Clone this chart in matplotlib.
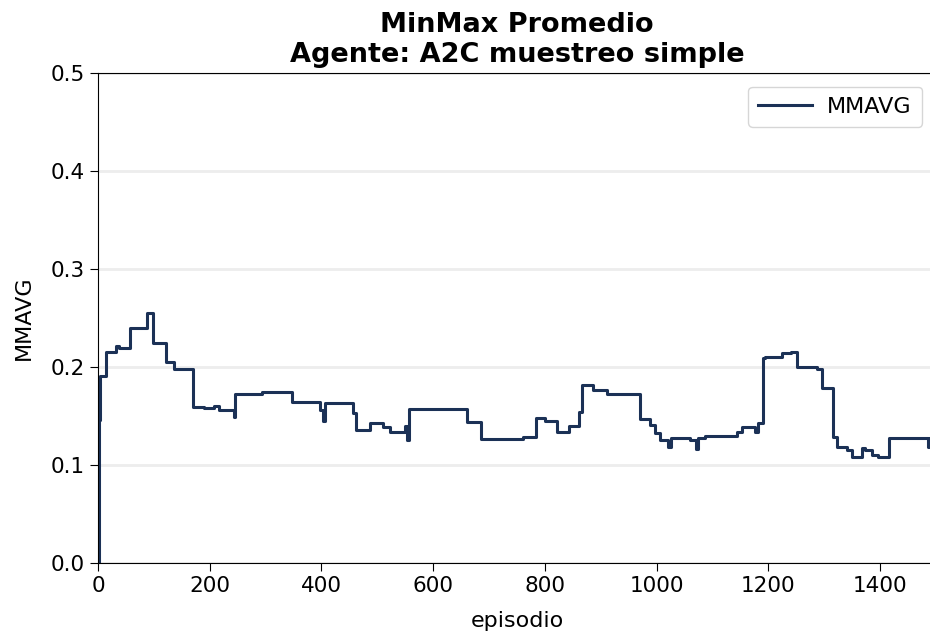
import matplotlib
matplotlib.use("Agg")
import matplotlib.pyplot as plt
import numpy as np

# MinMax average per episode, stored as step breakpoints (episode where value changes)
episodio_ini = [0, 2, 4, 14, 32, 38, 57, 88, 98, 122, 136, 170, 190, 208, 217, 243,
                246, 294, 347, 397, 402, 406, 457, 461, 487, 510, 523, 549, 553, 557,
                661, 686, 761, 784, 800, 822, 843, 861, 866, 886, 911, 970, 988, 997,
                1006, 1021, 1026, 1060, 1070, 1074, 1087, 1144, 1153, 1176, 1182, 1190,
                1194, 1225, 1240, 1252, 1287, 1296, 1316, 1323, 1341, 1350, 1368, 1373,
                1386, 1397, 1415, 1485, 1488, 1499]
mmavg = [0.0, 0.146, 0.191, 0.215, 0.221, 0.219, 0.240, 0.255, 0.224, 0.205, 0.198,
         0.159, 0.158, 0.160, 0.156, 0.149, 0.172, 0.174, 0.164, 0.156, 0.145, 0.163,
         0.153, 0.136, 0.143, 0.139, 0.134, 0.140, 0.126, 0.157, 0.144, 0.127, 0.129,
         0.148, 0.145, 0.134, 0.140, 0.154, 0.182, 0.177, 0.172, 0.147, 0.141, 0.133,
         0.126, 0.118, 0.128, 0.126, 0.116, 0.128, 0.130, 0.134, 0.139, 0.134, 0.143,
         0.209, 0.210, 0.214, 0.215, 0.200, 0.198, 0.179, 0.129, 0.118, 0.115, 0.108,
         0.117, 0.115, 0.110, 0.108, 0.128, 0.118, 0.128, 0.128]

fig = plt.figure(figsize=(9.3, 6.38), dpi=100)
ax = fig.add_axes([98 / 930, 75 / 638, 838 / 930, 490 / 638])

ax.plot(episodio_ini, mmavg, drawstyle="steps-post", color="#1b3156",
        linewidth=2.2, label="MMAVG")

ax.set_xlim(0, 1500)
ax.set_ylim(0, 0.5)
ax.set_yticks([0.0, 0.1, 0.2, 0.3, 0.4, 0.5])
ax.set_xticks(range(0, 1401, 200))
ax.yaxis.grid(True, color="#ededed", linewidth=2)
ax.set_axisbelow(True)
ax.tick_params(labelsize=15.5, length=6)

ax.set_xlabel("episodio", fontsize=16, labelpad=11)
ax.set_ylabel("MMAVG", fontsize=16, labelpad=12)
ax.set_title("MinMax Promedio\nAgente: A2C muestreo simple",
             fontsize=19.5, fontweight="bold", pad=8)

ax.legend(loc="upper right", bbox_to_anchor=(0.9965, 0.9945), fontsize=16,
          handlelength=2.4, borderpad=0.45, handletextpad=0.7)

fig.savefig("out.png", dpi=100)
